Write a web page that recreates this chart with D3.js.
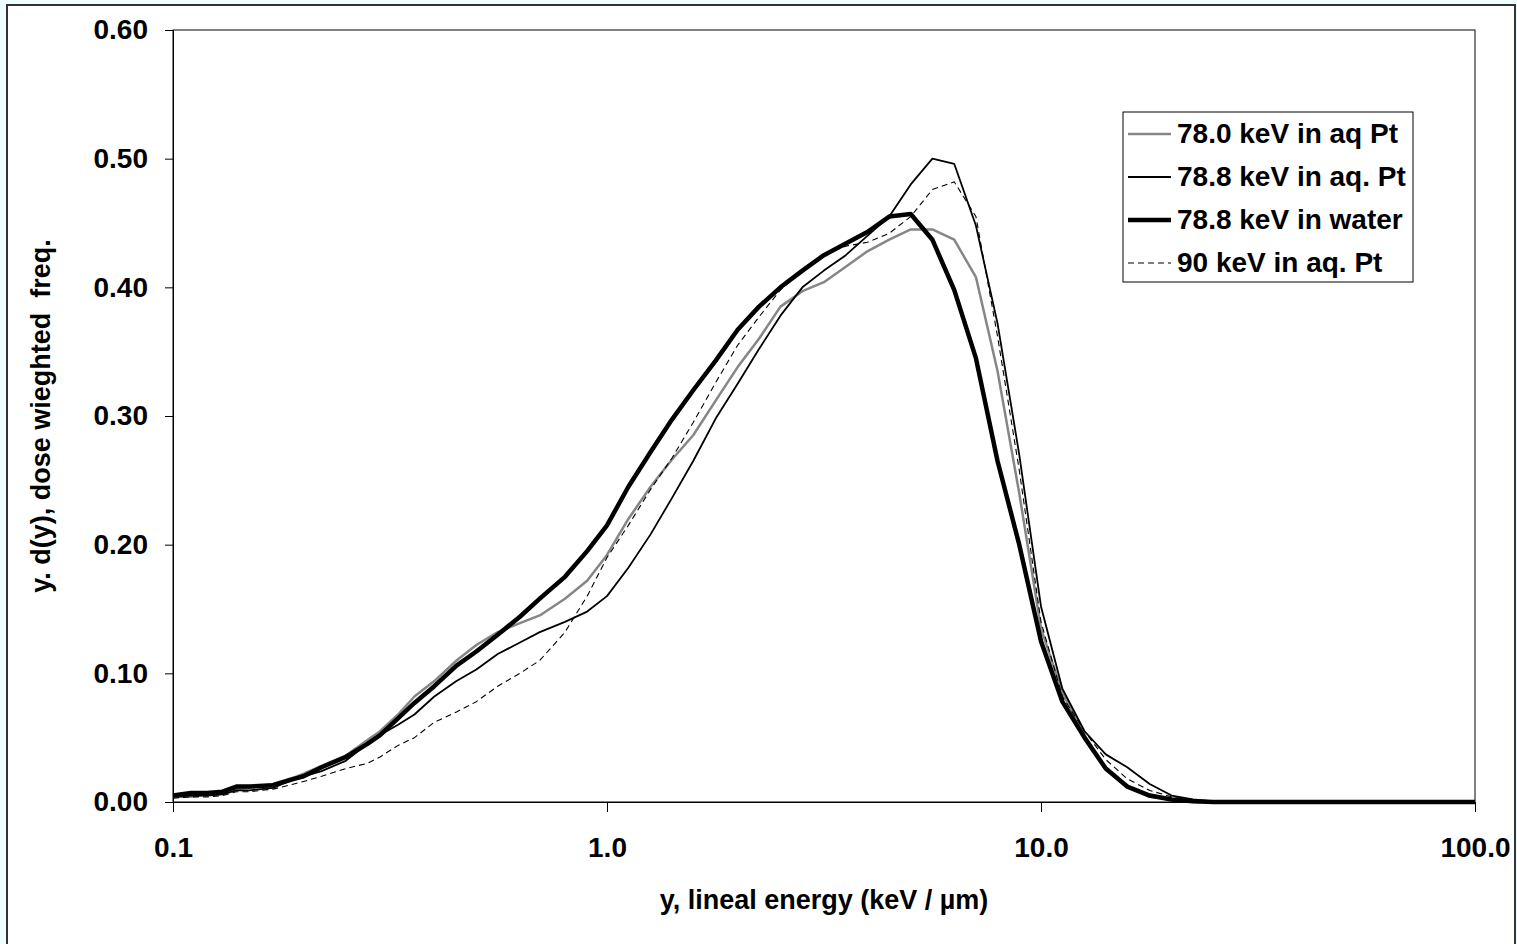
<!DOCTYPE html>
<html>
<head>
<meta charset="utf-8">
<script src="https://cdnjs.cloudflare.com/ajax/libs/d3/7.8.5/d3.min.js"></script>
<style>
	body { margin: 0; background: #effefe; }
	svg { display: block; }
	text { font-family: "Liberation Sans", Arial, sans-serif; font-weight: bold; fill: #000; }
</style>
</head>
<body>
<div id="viz"></div>
<script>

//data (lineal energy in keV/um)
let yValues = [0.1, 0.11, 0.12, 0.13, 0.14, 0.15, 0.17, 0.19, 0.2, 0.22, 0.25, 0.28, 0.3, 0.33, 0.36, 0.4, 0.45, 0.5, 0.56, 0.63, 0.7, 0.8, 0.9,
	1.0, 1.12, 1.26, 1.41, 1.58, 1.78, 2.0, 2.24, 2.51, 2.82, 3.16, 3.55, 3.98, 4.47, 5.01, 5.62, 6.31, 7.08, 7.94, 8.91,
	10.0, 11.2, 12.6, 14.1, 15.8, 17.8, 20.0, 22.4, 25, 30, 50, 100]

let aqPt780 = [0.004, 0.004, 0.006, 0.007, 0.010, 0.011, 0.014, 0.019, 0.022, 0.028, 0.036, 0.048, 0.055, 0.068, 0.082, 0.094, 0.110, 0.122, 0.132, 0.139, 0.145, 0.158, 0.172,
	0.192, 0.220, 0.245, 0.266, 0.285, 0.312, 0.338, 0.360, 0.385, 0.397, 0.404, 0.416, 0.428, 0.437, 0.445, 0.445, 0.437, 0.408, 0.335, 0.240,
	0.135, 0.085, 0.052, 0.025, 0.012, 0.004, 0.002, 0, 0, 0, 0, 0]

let aqPt788 = [0.004, 0.005, 0.005, 0.006, 0.009, 0.009, 0.011, 0.018, 0.020, 0.024, 0.032, 0.045, 0.052, 0.060, 0.068, 0.082, 0.094, 0.103, 0.115, 0.124, 0.132, 0.140, 0.148,
	0.160, 0.182, 0.208, 0.236, 0.265, 0.298, 0.325, 0.352, 0.378, 0.400, 0.413, 0.425, 0.440, 0.455, 0.480, 0.500, 0.496, 0.448, 0.372, 0.270,
	0.152, 0.088, 0.055, 0.037, 0.027, 0.014, 0.005, 0.002, 0.0005, 0, 0, 0]

let water788 = [0.005, 0.007, 0.007, 0.008, 0.012, 0.012, 0.013, 0.018, 0.020, 0.027, 0.035, 0.045, 0.052, 0.065, 0.077, 0.090, 0.106, 0.117, 0.130, 0.144, 0.158, 0.175, 0.195,
	0.215, 0.245, 0.272, 0.297, 0.320, 0.343, 0.367, 0.385, 0.400, 0.413, 0.425, 0.434, 0.443, 0.455, 0.457, 0.437, 0.398, 0.345, 0.265, 0.200,
	0.125, 0.078, 0.050, 0.026, 0.012, 0.005, 0.002, 0.0005, 0, 0, 0, 0]

let aqPt90 = [0.003, 0.004, 0.004, 0.005, 0.008, 0.008, 0.010, 0.014, 0.016, 0.020, 0.026, 0.030, 0.035, 0.044, 0.050, 0.062, 0.070, 0.078, 0.090, 0.100, 0.110, 0.132, 0.160,
	0.190, 0.215, 0.243, 0.267, 0.295, 0.326, 0.355, 0.377, 0.398, 0.413, 0.426, 0.432, 0.435, 0.442, 0.455, 0.476, 0.482, 0.455, 0.362, 0.258,
	0.140, 0.082, 0.055, 0.033, 0.018, 0.009, 0.004, 0.001, 0, 0, 0, 0]

let seriesNames = ['78.0 keV in aq Pt', '78.8 keV in aq. Pt', '78.8 keV in water', '90 keV in aq. Pt']
let seriesData = [aqPt780, aqPt788, water788, aqPt90]
let seriesColor = ['#868686', '#000', '#000', '#000']
let seriesWidth = [2.5, 1.8, 4.5, 1.1]
let seriesDash = [null, null, null, '6,4']

let xTicks = [0.1, 1, 10, 100]
let yTicks = [0, 0.1, 0.2, 0.3, 0.4, 0.5, 0.6]

let width = 1517
let height = 944

let svg = d3.select('#viz')
			.append('svg')
			.attr('width', width)
			.attr('height', height)

//outer chart frame
svg.append('rect')
	.attr('x', 7)
	.attr('y', 5)
	.attr('width', 1508)
	.attr('height', 1000)
	.attr('fill', '#fff')
	.attr('stroke', '#333')
	.attr('stroke-width', 2)

let x = d3.scaleLog()
			.domain([0.1, 100])
			.range([173, 1475])

let y = d3.scaleLinear()
			.domain([0, 0.6])
			.range([802, 30])

//plot area box
svg.append('rect')
	.attr('x', x(0.1))
	.attr('y', y(0.6))
	.attr('width', x(100) - x(0.1))
	.attr('height', y(0) - y(0.6))
	.attr('fill', 'none')
	.attr('stroke', '#000')
	.attr('stroke-width', 1)

//axes
let yAxis = svg.append('g')
				.attr('transform', `translate(${x(0.1)},0)`)
				.call(d3.axisLeft(y)
						.tickValues(yTicks)
						.tickFormat(d3.format('.2f'))
						.tickSize(8)
						.tickSizeOuter(0)
						.tickPadding(17))

let xAxis = svg.append('g')
				.attr('transform', `translate(0,${y(0)})`)
				.call(d3.axisBottom(x)
						.tickValues(xTicks)
						.tickFormat(d3.format('.1f'))
						.tickSize(10)
						.tickSizeOuter(0)
						.tickPadding(25))

svg.selectAll('.tick text')
	.attr('font-size', 28)
	.style('font-family', '"Liberation Sans", Arial, sans-serif')
	.style('font-weight', 'bold')
svg.selectAll('.tick line').attr('stroke', '#000')
svg.selectAll('.domain').attr('stroke', '#000')

//axis titles
svg.append('text')
	.attr('x', (x(0.1) + x(100)) / 2)
	.attr('y', 909)
	.attr('text-anchor', 'middle')
	.attr('font-size', 27)
	.text('y, lineal energy (keV / µm)')

svg.append('text')
	.attr('transform', `translate(50,${(y(0) + y(0.6)) / 2}) rotate(-90)`)
	.attr('text-anchor', 'middle')
	.attr('font-size', 27)
	.style('white-space', 'pre')
	.text('y. d(y), dose wieghted  freq.')

//curves
let line = d3.line()
			.x((d, i) => x(yValues[i]))
			.y(d => y(d))

svg.selectAll('.curve')
	.data(seriesData)
	.enter()
	.append('path')
	.attr('class', 'curve')
	.attr('d', d => line(d))
	.attr('fill', 'none')
	.attr('stroke', (d, i) => seriesColor[i])
	.attr('stroke-width', (d, i) => seriesWidth[i])
	.attr('stroke-dasharray', (d, i) => seriesDash[i])
	.attr('stroke-linejoin', 'round')

//legend
let legend = svg.append('g')

legend.append('rect')
	.attr('x', 1123)
	.attr('y', 112)
	.attr('width', 290)
	.attr('height', 170)
	.attr('fill', '#fff')
	.attr('stroke', '#000')
	.attr('stroke-width', 1)

let rows = legend.selectAll('.row')
				.data(seriesNames)
				.enter()
				.append('g')
				.attr('transform', (d, i) => `translate(0,${134 + i * 43})`)

rows.append('line')
	.attr('x1', 1128)
	.attr('x2', 1171)
	.attr('stroke', (d, i) => seriesColor[i])
	.attr('stroke-width', (d, i) => seriesWidth[i])
	.attr('stroke-dasharray', (d, i) => seriesDash[i])

rows.append('text')
	.attr('x', 1177)
	.attr('y', 9)
	.attr('font-size', 28)
	.text(d => d)

</script>
</body>
</html>
